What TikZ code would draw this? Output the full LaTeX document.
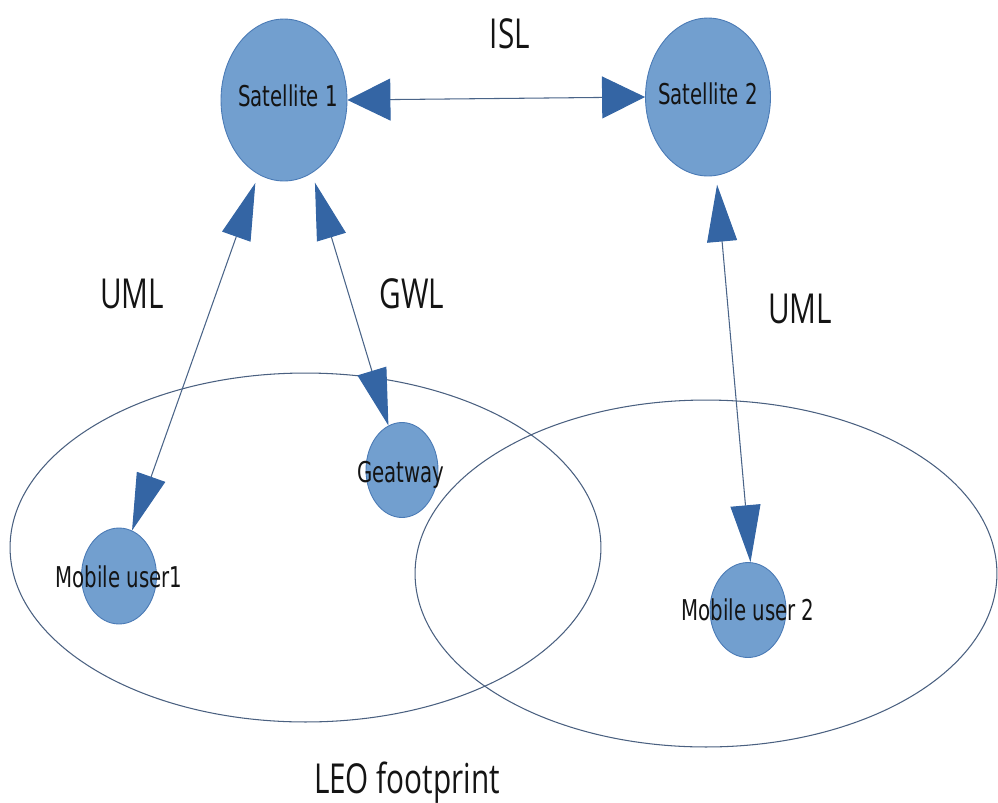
\documentclass[tikz,border=0pt]{standalone}
\usepackage{fontspec}
\usepackage{graphicx}
\setmainfont{DejaVu Sans}
\newfontfamily\linkfont{Open Sans}
\usetikzlibrary{shapes.geometric,arrows.meta}

\definecolor{bodyfill}{HTML}{729FCF}
\definecolor{bodyedge}{HTML}{4A7AB5}
\definecolor{tipblue}{HTML}{3465A4}
\definecolor{linkline}{HTML}{4A6488}
\definecolor{zoneline}{HTML}{4A6080}
\definecolor{inktext}{HTML}{141414}

\tikzset{
  islhead/.tip={Triangle[length=0.86cm,width=0.84cm,color=tipblue,fill=tipblue]},
  linkhead/.tip={Triangle[length=1.14cm,width=0.6cm,color=tipblue,fill=tipblue]},
  body/.style={ellipse, draw=bodyedge, fill=bodyfill, line width=0.5pt, inner sep=0pt},
  footprint/.style={ellipse, draw=zoneline, line width=0.6pt, inner sep=0pt},
  link/.style={draw=linkline, line width=0.6pt},
  nodetext/.style={text=inktext, font=\fontsize{16.3}{18}\selectfont, inner sep=0pt, anchor=base},
  linktext/.style={text=inktext, font=\linkfont\fontsize{23.5}{26}\selectfont, inner sep=0pt, anchor=base},
}

\begin{document}
\begin{tikzpicture}[x=0.02cm,y=-0.02cm]
\useasboundingbox (0,0) rectangle (998,802);

% coverage areas on the ground
\node[footprint, minimum width=11.82cm, minimum height=6.98cm] (zone1) at (305.5,547.5) {};
\node[footprint, minimum width=11.64cm, minimum height=6.94cm] (zone2) at (706,573.5) {};

% satellites and ground terminals
\node[body, minimum width=2.52cm, minimum height=3.24cm] (sat1) at (284,100) {};
\node[body, minimum width=2.50cm, minimum height=3.16cm] (sat2) at (708,97) {};
\node[body, minimum width=1.44cm, minimum height=1.90cm] (gw) at (402,470) {};
\node[body, minimum width=1.50cm, minimum height=1.92cm] (mu1) at (119,576) {};
\node[body, minimum width=1.52cm, minimum height=1.90cm] (mu2) at (748,610) {};

\node[nodetext] (sat1txt) at (288,106) {\scalebox{0.69}[1]{Satellite 1}};
\node[nodetext] (sat2txt) at (708,104) {\scalebox{0.69}[1]{Satellite 2}};
\node[nodetext] (gwtxt) at (401,482) {\scalebox{0.69}[1]{Geatway}};
\node[nodetext] (mu1txt) at (119,587) {\scalebox{0.69}[1]{Mobile user1}};
\node[nodetext] (mu2txt) at (748,620) {\scalebox{0.69}[1]{Mobile user 2}};

% links
\draw[link, islhead-islhead] (sat1.east) -- (sat2.west);
\draw[link, linkhead-linkhead, shorten <=0.18cm] (sat1.251) -- (mu1.74);
\draw[link, linkhead-linkhead, shorten <=0.2cm] (sat1.291) -- (gw.107);
\draw[link, linkhead-linkhead, shorten <=0.18cm] (sat2.276) -- (mu2.87);

% link labels
\node[linktext] (isl) at (510,48) {\scalebox{0.72}[1]{ISL}};
\node[linktext] (uml1) at (132,308) {\scalebox{0.72}[1]{UML}};
\node[linktext] (gwl) at (412,308) {\scalebox{0.72}[1]{GWL}};
\node[linktext] (uml2) at (800,323) {\scalebox{0.72}[1]{UML}};
\node[linktext] (leo) at (407,793) {\scalebox{0.72}[1]{LEO footprint}};
\end{tikzpicture}
\end{document}
